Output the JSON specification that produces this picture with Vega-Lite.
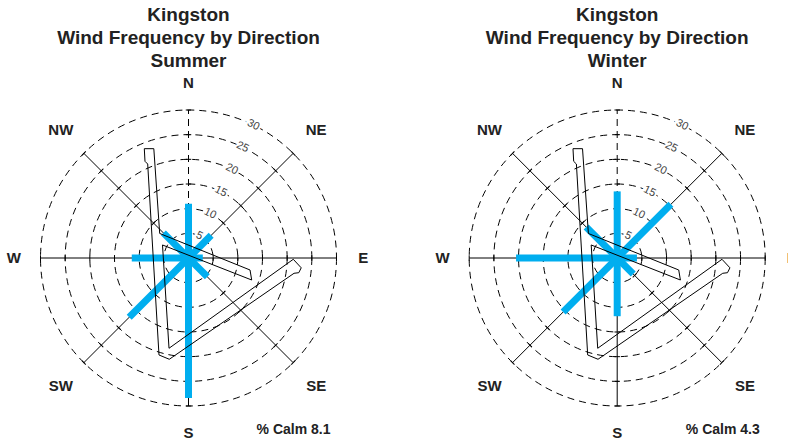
{
  "$schema": "https://vega.github.io/schema/vega-lite/v6.json",
  "background": "white",
  "padding": {"left": 0, "right": 0, "top": 6, "bottom": 0},
  "spacing": 69.4,
  "bounds": "flush",
  "config": {
    "view": {"stroke": null},
    "font": "Liberation Sans",
    "title": {"font": "Liberation Sans", "fontSize": 19, "fontWeight": "bold", "color": "#222", "lineHeight": 23, "offset": 3}
  },
  "datasets": {
    "rings": [{"r": 5}, {"r": 10}, {"r": 15}, {"r": 20}, {"r": 25}, {"r": 30}],
    "dirs": [
      {"dir": "N", "angle": 0, "rings": [5, 10, 15, 20, 25, 30]},
      {"dir": "NE", "angle": 45, "rings": [5, 10, 15, 20, 25, 30]},
      {"dir": "E", "angle": 90, "rings": [5, 10, 15, 20, 25, 30]},
      {"dir": "SE", "angle": 135, "rings": [5, 10, 15, 20, 25, 30]},
      {"dir": "S", "angle": 180, "rings": [5, 10, 15, 20, 25, 30]},
      {"dir": "SW", "angle": 225, "rings": [5, 10, 15, 20, 25, 30]},
      {"dir": "W", "angle": 270, "rings": [5, 10, 15, 20, 25, 30]},
      {"dir": "NW", "angle": 315, "rings": [5, 10, 15, 20, 25, 30]}
    ],
    "bars": [
      {"season": "Summer", "dir": "N", "angle": 0, "freq": 11.0},
      {"season": "Summer", "dir": "NE", "angle": 45, "freq": 6.5},
      {"season": "Summer", "dir": "E", "angle": 90, "freq": 2.9},
      {"season": "Summer", "dir": "SE", "angle": 135, "freq": 5.4},
      {"season": "Summer", "dir": "S", "angle": 180, "freq": 28.4},
      {"season": "Summer", "dir": "SW", "angle": 225, "freq": 17.0},
      {"season": "Summer", "dir": "W", "angle": 270, "freq": 11.5},
      {"season": "Summer", "dir": "NW", "angle": 315, "freq": 7.2},
      {"season": "Winter", "dir": "N", "angle": 0, "freq": 13.5},
      {"season": "Winter", "dir": "NE", "angle": 45, "freq": 15.4},
      {"season": "Winter", "dir": "E", "angle": 90, "freq": 4.0},
      {"season": "Winter", "dir": "SE", "angle": 135, "freq": 4.6},
      {"season": "Winter", "dir": "S", "angle": 180, "freq": 11.8},
      {"season": "Winter", "dir": "SW", "angle": 225, "freq": 15.5},
      {"season": "Winter", "dir": "W", "angle": 270, "freq": 20.5},
      {"season": "Winter", "dir": "NW", "angle": 315, "freq": 8.9}
    ],
    "runway": [
      {"i": 1, "u": -8.96, "v": 22.16},
      {"i": 2, "u": -7.03, "v": 22.16},
      {"i": 3, "u": -5.84, "v": 4.97},
      {"i": 4, "u": 12.47, "v": -2.43},
      {"i": 5, "u": 12.81, "v": -4.46},
      {"i": 6, "u": -5.27, "v": 2.64},
      {"i": 7, "u": -3.95, "v": -18.3},
      {"i": 8, "u": 21.24, "v": -0.26},
      {"i": 9, "u": 22.85, "v": -1.99},
      {"i": 10, "u": 22.36, "v": -2.98},
      {"i": 11, "u": 21.39, "v": -3.1},
      {"i": 12, "u": -3.89, "v": -20.53},
      {"i": 13, "u": -5.98, "v": -19.66},
      {"i": 14, "u": -8.27, "v": 19.05},
      {"i": 15, "u": -8.82, "v": 19.6},
      {"i": 16, "u": -8.96, "v": 22.16}
    ],
    "calm": [
      {"season": "Summer", "calm": 8.1},
      {"season": "Winter", "calm": 4.3}
    ]
  },
  "hconcat": [
    {
      "width": 377,
      "height": 368,
      "title": {"text": ["Kingston", "Wind Frequency by Direction", "Summer"]},
      "layer": [
        {
          "data": {"name": "rings"},
          "transform": [{"calculate": "0", "as": "o"}],
          "mark": {"type": "point", "shape": "circle", "filled": false, "stroke": "#000", "strokeWidth": 1, "strokeDash": [7, 5], "opacity": 1},
          "encoding": {
            "x": {"field": "o", "type": "quantitative", "scale": {"domain": [-38.21, 38.21], "nice": false, "zero": false}, "axis": null},
            "y": {"field": "o", "type": "quantitative", "scale": {"domain": [-37.3, 37.3], "nice": false, "zero": false}, "axis": null},
            "size": {"field": "r", "type": "quantitative", "scale": {"type": "pow", "exponent": 2, "domain": [0, 30], "range": [0, 87616], "zero": true}, "legend": null}
          }
        },
        {
          "data": {"name": "dirs"},
          "transform": [
            {"filter": "datum.dir !== 'N'"},
            {"calculate": "0", "as": "o"},
            {"calculate": "30*sin(datum.angle*PI/180)", "as": "ex"},
            {"calculate": "30*cos(datum.angle*PI/180)", "as": "ey"}
          ],
          "mark": {"type": "rule", "color": "#000", "strokeWidth": 1},
          "encoding": {
            "x": {"field": "o", "type": "quantitative", "scale": {"domain": [-38.21, 38.21], "nice": false, "zero": false}, "axis": null},
            "y": {"field": "o", "type": "quantitative", "scale": {"domain": [-37.3, 37.3], "nice": false, "zero": false}, "axis": null},
            "x2": {"field": "ex"},
            "y2": {"field": "ey"}
          }
        },
        {
          "data": {"name": "dirs"},
          "transform": [
            {"filter": "datum.dir === 'N'"},
            {"calculate": "0", "as": "o"},
            {"calculate": "30*sin(datum.angle*PI/180)", "as": "ex"},
            {"calculate": "30*cos(datum.angle*PI/180)", "as": "ey"}
          ],
          "mark": {"type": "rule", "color": "#000", "strokeWidth": 1, "strokeDash": [7, 5]},
          "encoding": {
            "x": {"field": "o", "type": "quantitative", "scale": {"domain": [-38.21, 38.21], "nice": false, "zero": false}, "axis": null},
            "y": {"field": "o", "type": "quantitative", "scale": {"domain": [-37.3, 37.3], "nice": false, "zero": false}, "axis": null},
            "x2": {"field": "ex"},
            "y2": {"field": "ey"}
          }
        },
        {
          "data": {"name": "dirs"},
          "transform": [
            {"flatten": ["rings"], "as": ["rr"]},
            {"calculate": "datum.rr*sin(datum.angle*PI/180)", "as": "tx"},
            {"calculate": "datum.rr*cos(datum.angle*PI/180)", "as": "ty"}
          ],
          "mark": {"type": "point", "shape": "M-1,0L1,0", "filled": false, "stroke": "#000", "strokeWidth": 1, "opacity": 1, "size": 30},
          "encoding": {
            "x": {"field": "tx", "type": "quantitative", "scale": {"domain": [-38.21, 38.21], "nice": false, "zero": false}, "axis": null},
            "y": {"field": "ty", "type": "quantitative", "scale": {"domain": [-37.3, 37.3], "nice": false, "zero": false}, "axis": null},
            "angle": {"field": "angle", "type": "quantitative", "scale": null}
          }
        },
        {
          "data": {"name": "rings"},
          "transform": [
            {"calculate": "datum.r*sin(26*PI/180)", "as": "lx"},
            {"calculate": "datum.r*cos(26*PI/180)", "as": "ly"}
          ],
          "mark": {"type": "text", "angle": 26, "fontSize": 11, "stroke": "white", "strokeWidth": 4, "fill": "white"},
          "encoding": {
            "x": {"field": "lx", "type": "quantitative", "scale": {"domain": [-38.21, 38.21], "nice": false, "zero": false}, "axis": null},
            "y": {"field": "ly", "type": "quantitative", "scale": {"domain": [-37.3, 37.3], "nice": false, "zero": false}, "axis": null},
            "text": {"field": "r", "type": "quantitative"}
          }
        },
        {
          "data": {"name": "rings"},
          "transform": [
            {"calculate": "datum.r*sin(26*PI/180)", "as": "lx"},
            {"calculate": "datum.r*cos(26*PI/180)", "as": "ly"}
          ],
          "mark": {"type": "text", "angle": 26, "fontSize": 11, "color": "#444"},
          "encoding": {
            "x": {"field": "lx", "type": "quantitative", "scale": {"domain": [-38.21, 38.21], "nice": false, "zero": false}, "axis": null},
            "y": {"field": "ly", "type": "quantitative", "scale": {"domain": [-37.3, 37.3], "nice": false, "zero": false}, "axis": null},
            "text": {"field": "r", "type": "quantitative"}
          }
        },
        {
          "data": {"name": "bars"},
          "transform": [
            {"filter": "datum.season === 'Summer'"},
            {"calculate": "0", "as": "o"},
            {"calculate": "datum.freq*sin(datum.angle*PI/180)", "as": "bx"},
            {"calculate": "datum.freq*cos(datum.angle*PI/180)", "as": "by"}
          ],
          "mark": {"type": "rule", "color": "#00aeef", "strokeWidth": 7, "strokeCap": "butt"},
          "encoding": {
            "x": {"field": "o", "type": "quantitative", "scale": {"domain": [-38.21, 38.21], "nice": false, "zero": false}, "axis": null},
            "y": {"field": "o", "type": "quantitative", "scale": {"domain": [-37.3, 37.3], "nice": false, "zero": false}, "axis": null},
            "x2": {"field": "bx"},
            "y2": {"field": "by"}
          }
        },
        {
          "data": {"name": "runway"},
          "mark": {"type": "line", "color": "#000", "strokeWidth": 1},
          "encoding": {
            "x": {"field": "u", "type": "quantitative", "scale": {"domain": [-38.21, 38.21], "nice": false, "zero": false}, "axis": null},
            "y": {"field": "v", "type": "quantitative", "scale": {"domain": [-37.3, 37.3], "nice": false, "zero": false}, "axis": null},
            "order": {"field": "i", "type": "quantitative"}
          }
        },
        {
          "data": {"name": "dirs"},
          "transform": [
            {"filter": "datum.dir !== 'E'"},
            {"calculate": "datum.angle % 90 === 0 ? 35.4 : 36.6", "as": "lr"},
            {"calculate": "datum.lr*sin(datum.angle*PI/180)", "as": "lx"},
            {"calculate": "datum.lr*cos(datum.angle*PI/180)", "as": "ly"}
          ],
          "mark": {"type": "text", "fontSize": 15, "fontWeight": "bold", "color": "#222", "align": "center", "baseline": "middle"},
          "encoding": {
            "x": {"field": "lx", "type": "quantitative", "scale": {"domain": [-38.21, 38.21], "nice": false, "zero": false}, "axis": null},
            "y": {"field": "ly", "type": "quantitative", "scale": {"domain": [-37.3, 37.3], "nice": false, "zero": false}, "axis": null},
            "text": {"field": "dir", "type": "nominal"}
          }
        },
        {
          "data": {"name": "dirs"},
          "transform": [
            {"filter": "datum.dir === 'E'"},
            {"calculate": "35.4*sin(datum.angle*PI/180)", "as": "lx"},
            {"calculate": "35.4*cos(datum.angle*PI/180)", "as": "ly"}
          ],
          "mark": {"type": "text", "fontSize": 15, "fontWeight": "bold", "color": "#222", "align": "center", "baseline": "middle", "clip": true},
          "encoding": {
            "x": {"field": "lx", "type": "quantitative", "scale": {"domain": [-38.21, 38.21], "nice": false, "zero": false}, "axis": null},
            "y": {"field": "ly", "type": "quantitative", "scale": {"domain": [-37.3, 37.3], "nice": false, "zero": false}, "axis": null},
            "text": {"field": "dir", "type": "nominal"}
          }
        },
        {
          "data": {"name": "calm"},
          "transform": [
            {"filter": "datum.season === 'Summer'"},
            {"calculate": "'% Calm ' + format(datum.calm, '.1f')", "as": "label"},
            {"calculate": "21.3", "as": "cx"},
            {"calculate": "-34.8", "as": "cy"}
          ],
          "mark": {"type": "text", "fontSize": 14, "fontWeight": "bold", "color": "#222", "align": "center", "baseline": "middle"},
          "encoding": {
            "x": {"field": "cx", "type": "quantitative", "scale": {"domain": [-38.21, 38.21], "nice": false, "zero": false}, "axis": null},
            "y": {"field": "cy", "type": "quantitative", "scale": {"domain": [-37.3, 37.3], "nice": false, "zero": false}, "axis": null},
            "text": {"field": "label", "type": "nominal"}
          }
        }
      ]
    },
    {
      "width": 341.6,
      "height": 368,
      "title": {"text": ["Kingston", "Wind Frequency by Direction", "Winter"]},
      "layer": [
        {
          "data": {"name": "rings"},
          "transform": [{"calculate": "0", "as": "o"}],
          "mark": {"type": "point", "shape": "circle", "filled": false, "stroke": "#000", "strokeWidth": 1, "strokeDash": [7, 5], "opacity": 1},
          "encoding": {
            "x": {"field": "o", "type": "quantitative", "scale": {"domain": [-34.62, 34.62], "nice": false, "zero": false}, "axis": null},
            "y": {"field": "o", "type": "quantitative", "scale": {"domain": [-37.3, 37.3], "nice": false, "zero": false}, "axis": null},
            "size": {"field": "r", "type": "quantitative", "scale": {"type": "pow", "exponent": 2, "domain": [0, 30], "range": [0, 87616], "zero": true}, "legend": null}
          }
        },
        {
          "data": {"name": "dirs"},
          "transform": [
            {"filter": "datum.dir !== 'N'"},
            {"calculate": "0", "as": "o"},
            {"calculate": "30*sin(datum.angle*PI/180)", "as": "ex"},
            {"calculate": "30*cos(datum.angle*PI/180)", "as": "ey"}
          ],
          "mark": {"type": "rule", "color": "#000", "strokeWidth": 1},
          "encoding": {
            "x": {"field": "o", "type": "quantitative", "scale": {"domain": [-34.62, 34.62], "nice": false, "zero": false}, "axis": null},
            "y": {"field": "o", "type": "quantitative", "scale": {"domain": [-37.3, 37.3], "nice": false, "zero": false}, "axis": null},
            "x2": {"field": "ex"},
            "y2": {"field": "ey"}
          }
        },
        {
          "data": {"name": "dirs"},
          "transform": [
            {"filter": "datum.dir === 'N'"},
            {"calculate": "0", "as": "o"},
            {"calculate": "30*sin(datum.angle*PI/180)", "as": "ex"},
            {"calculate": "30*cos(datum.angle*PI/180)", "as": "ey"}
          ],
          "mark": {"type": "rule", "color": "#000", "strokeWidth": 1, "strokeDash": [7, 5]},
          "encoding": {
            "x": {"field": "o", "type": "quantitative", "scale": {"domain": [-34.62, 34.62], "nice": false, "zero": false}, "axis": null},
            "y": {"field": "o", "type": "quantitative", "scale": {"domain": [-37.3, 37.3], "nice": false, "zero": false}, "axis": null},
            "x2": {"field": "ex"},
            "y2": {"field": "ey"}
          }
        },
        {
          "data": {"name": "dirs"},
          "transform": [
            {"flatten": ["rings"], "as": ["rr"]},
            {"calculate": "datum.rr*sin(datum.angle*PI/180)", "as": "tx"},
            {"calculate": "datum.rr*cos(datum.angle*PI/180)", "as": "ty"}
          ],
          "mark": {"type": "point", "shape": "M-1,0L1,0", "filled": false, "stroke": "#000", "strokeWidth": 1, "opacity": 1, "size": 30},
          "encoding": {
            "x": {"field": "tx", "type": "quantitative", "scale": {"domain": [-34.62, 34.62], "nice": false, "zero": false}, "axis": null},
            "y": {"field": "ty", "type": "quantitative", "scale": {"domain": [-37.3, 37.3], "nice": false, "zero": false}, "axis": null},
            "angle": {"field": "angle", "type": "quantitative", "scale": null}
          }
        },
        {
          "data": {"name": "rings"},
          "transform": [
            {"calculate": "datum.r*sin(26*PI/180)", "as": "lx"},
            {"calculate": "datum.r*cos(26*PI/180)", "as": "ly"}
          ],
          "mark": {"type": "text", "angle": 26, "fontSize": 11, "stroke": "white", "strokeWidth": 4, "fill": "white"},
          "encoding": {
            "x": {"field": "lx", "type": "quantitative", "scale": {"domain": [-34.62, 34.62], "nice": false, "zero": false}, "axis": null},
            "y": {"field": "ly", "type": "quantitative", "scale": {"domain": [-37.3, 37.3], "nice": false, "zero": false}, "axis": null},
            "text": {"field": "r", "type": "quantitative"}
          }
        },
        {
          "data": {"name": "rings"},
          "transform": [
            {"calculate": "datum.r*sin(26*PI/180)", "as": "lx"},
            {"calculate": "datum.r*cos(26*PI/180)", "as": "ly"}
          ],
          "mark": {"type": "text", "angle": 26, "fontSize": 11, "color": "#444"},
          "encoding": {
            "x": {"field": "lx", "type": "quantitative", "scale": {"domain": [-34.62, 34.62], "nice": false, "zero": false}, "axis": null},
            "y": {"field": "ly", "type": "quantitative", "scale": {"domain": [-37.3, 37.3], "nice": false, "zero": false}, "axis": null},
            "text": {"field": "r", "type": "quantitative"}
          }
        },
        {
          "data": {"name": "bars"},
          "transform": [
            {"filter": "datum.season === 'Winter'"},
            {"calculate": "0", "as": "o"},
            {"calculate": "datum.freq*sin(datum.angle*PI/180)", "as": "bx"},
            {"calculate": "datum.freq*cos(datum.angle*PI/180)", "as": "by"}
          ],
          "mark": {"type": "rule", "color": "#00aeef", "strokeWidth": 7, "strokeCap": "butt"},
          "encoding": {
            "x": {"field": "o", "type": "quantitative", "scale": {"domain": [-34.62, 34.62], "nice": false, "zero": false}, "axis": null},
            "y": {"field": "o", "type": "quantitative", "scale": {"domain": [-37.3, 37.3], "nice": false, "zero": false}, "axis": null},
            "x2": {"field": "bx"},
            "y2": {"field": "by"}
          }
        },
        {
          "data": {"name": "runway"},
          "mark": {"type": "line", "color": "#000", "strokeWidth": 1},
          "encoding": {
            "x": {"field": "u", "type": "quantitative", "scale": {"domain": [-34.62, 34.62], "nice": false, "zero": false}, "axis": null},
            "y": {"field": "v", "type": "quantitative", "scale": {"domain": [-37.3, 37.3], "nice": false, "zero": false}, "axis": null},
            "order": {"field": "i", "type": "quantitative"}
          }
        },
        {
          "data": {"name": "dirs"},
          "transform": [
            {"filter": "datum.dir !== 'E'"},
            {"calculate": "datum.angle % 90 === 0 ? 35.4 : 36.6", "as": "lr"},
            {"calculate": "datum.lr*sin(datum.angle*PI/180)", "as": "lx"},
            {"calculate": "datum.lr*cos(datum.angle*PI/180)", "as": "ly"}
          ],
          "mark": {"type": "text", "fontSize": 15, "fontWeight": "bold", "color": "#222", "align": "center", "baseline": "middle"},
          "encoding": {
            "x": {"field": "lx", "type": "quantitative", "scale": {"domain": [-34.62, 34.62], "nice": false, "zero": false}, "axis": null},
            "y": {"field": "ly", "type": "quantitative", "scale": {"domain": [-37.3, 37.3], "nice": false, "zero": false}, "axis": null},
            "text": {"field": "dir", "type": "nominal"}
          }
        },
        {
          "data": {"name": "dirs"},
          "transform": [
            {"filter": "datum.dir === 'E'"},
            {"calculate": "35.4*sin(datum.angle*PI/180)", "as": "lx"},
            {"calculate": "35.4*cos(datum.angle*PI/180)", "as": "ly"}
          ],
          "mark": {"type": "text", "fontSize": 15, "fontWeight": "bold", "color": "#222", "align": "center", "baseline": "middle", "clip": true},
          "encoding": {
            "x": {"field": "lx", "type": "quantitative", "scale": {"domain": [-34.62, 34.62], "nice": false, "zero": false}, "axis": null},
            "y": {"field": "ly", "type": "quantitative", "scale": {"domain": [-37.3, 37.3], "nice": false, "zero": false}, "axis": null},
            "text": {"field": "dir", "type": "nominal"}
          }
        },
        {
          "data": {"name": "calm"},
          "transform": [
            {"filter": "datum.season === 'Winter'"},
            {"calculate": "'% Calm ' + format(datum.calm, '.1f')", "as": "label"},
            {"calculate": "21.4", "as": "cx"},
            {"calculate": "-34.8", "as": "cy"}
          ],
          "mark": {"type": "text", "fontSize": 14, "fontWeight": "bold", "color": "#222", "align": "center", "baseline": "middle"},
          "encoding": {
            "x": {"field": "cx", "type": "quantitative", "scale": {"domain": [-34.62, 34.62], "nice": false, "zero": false}, "axis": null},
            "y": {"field": "cy", "type": "quantitative", "scale": {"domain": [-37.3, 37.3], "nice": false, "zero": false}, "axis": null},
            "text": {"field": "label", "type": "nominal"}
          }
        }
      ]
    }
  ]
}
